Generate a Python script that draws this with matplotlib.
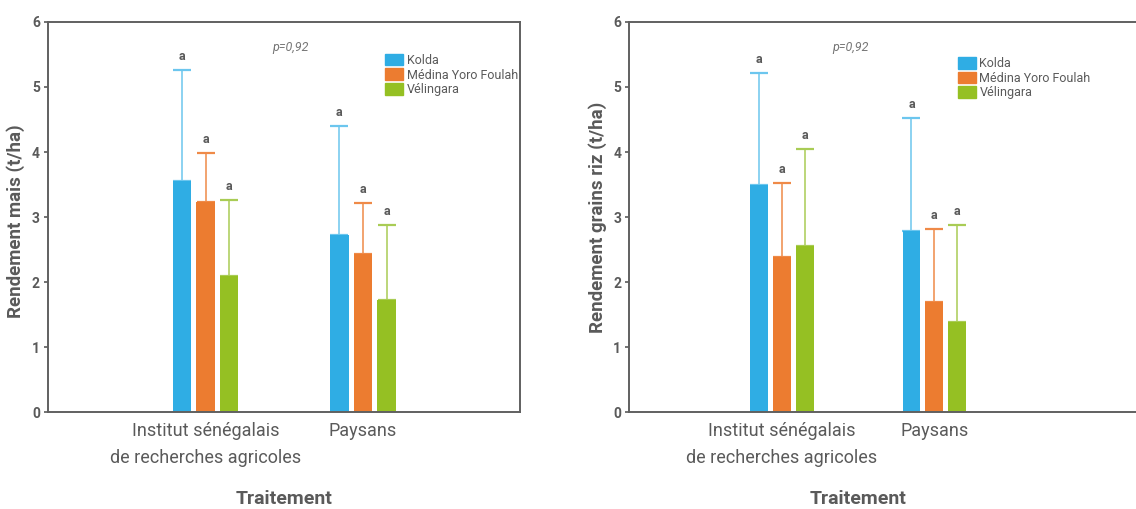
import matplotlib
matplotlib.use("Agg")
import matplotlib.pyplot as plt
import matplotlib.patches as mpatches
import numpy as np

plt.rcParams["font.family"] = ["Roboto", "DejaVu Sans"]

GREY = "#5a5a5a"
TREATMENTS = ["Institut sénégalais\nde recherches agricoles", "Paysans"]
SITES = ["Kolda", "Médina Yoro Foulah", "Vélingara"]
BAR_COLORS = ["#2fade4", "#ec7c30", "#95c023"]
ERR_COLORS = ["#6cc6ee", "#ef8a48", "#a9cc55"]

# maize yield (t/ha): mean and top of error bar, per site, per treatment
mais_mean = {"Kolda": [3.56, 2.72], "Médina Yoro Foulah": [3.23, 2.44], "Vélingara": [2.09, 1.72]}
mais_top = {"Kolda": [5.26, 4.40], "Médina Yoro Foulah": [3.99, 3.21], "Vélingara": [3.27, 2.88]}
mais_letters = {"Kolda": ["a", "a"], "Médina Yoro Foulah": ["a", "a"], "Vélingara": ["a", "a"]}

# rice grain yield (t/ha)
riz_mean = {"Kolda": [3.49, 2.79], "Médina Yoro Foulah": [2.39, 1.70], "Vélingara": [2.55, 1.39]}
riz_top = {"Kolda": [5.22, 4.53], "Médina Yoro Foulah": [3.53, 2.82], "Vélingara": [4.05, 2.88]}
riz_letters = {"Kolda": ["a", "a"], "Médina Yoro Foulah": ["a", "a"], "Vélingara": ["a", "a"]}

P_TEXT = "p=0,92"

WIDTH = 0.117
STEP = 0.15


def draw_panel(ax, means, tops, letters, ylabel, xmax, legend_x, legend_y, label_x, p_x):
    x = np.arange(len(TREATMENTS))
    for i, site in enumerate(SITES):
        pos = x + (i - 1) * STEP
        m = np.array(means[site])
        t = np.array(tops[site])
        ax.bar(pos, m, WIDTH, color=BAR_COLORS[i], zorder=2)
        ax.errorbar(pos, m, yerr=[np.zeros_like(m), t - m], fmt="none",
                    ecolor=ERR_COLORS[i], elinewidth=1.1, capsize=6.5,
                    capthick=1.6, zorder=1)
        for xp, tp, lt in zip(pos, t, letters[site]):
            ax.annotate(lt, (xp, tp), textcoords="offset points", xytext=(0, 5),
                        ha="center", va="bottom", fontsize=9, fontweight="bold",
                        color=GREY)

    ax.set_xlim(-1, xmax)
    ax.set_ylim(0, 6)
    ax.set_xticks(x)
    ax.set_xticklabels(TREATMENTS, fontsize=13, color=GREY, linespacing=1.65)
    ax.tick_params(axis="x", length=0, pad=7)
    ax.tick_params(axis="y", labelsize=10, colors=GREY, length=3, width=1.2, pad=3)
    for lab in ax.get_yticklabels():
        lab.set_fontweight("bold")
    for s in ax.spines.values():
        s.set_color("#606060")
        s.set_linewidth(1.4)

    ax.set_ylabel(ylabel, fontsize=13.5, fontweight="bold", color=GREY)
    ax.set_xlabel("Traitement", fontsize=14, fontweight="bold", color=GREY)
    ax.xaxis.set_label_coords(label_x, -0.2)

    ax.text(p_x, 0.935, P_TEXT, transform=ax.transAxes, fontsize=9,
            style="italic", color="#777777", ha="center", va="center")

    handles = [mpatches.Patch(color=c, label=s) for c, s in zip(BAR_COLORS, SITES)]
    ax.legend(handles=handles, loc="upper left", bbox_to_anchor=(legend_x, legend_y),
              frameon=False, fontsize=9, handlelength=1.45, handleheight=1.05,
              handletextpad=0.3, labelspacing=0.12, borderpad=0, borderaxespad=0,
              labelcolor=GREY)


fig = plt.figure(figsize=(11.36, 5.09), dpi=100)
ax1 = fig.add_axes([0.0425, 0.19, 0.4155, 0.767])
ax2 = fig.add_axes([0.554, 0.19, 0.46, 0.767])

draw_panel(ax1, mais_mean, mais_top, mais_letters, "Rendement mais (t/ha)",
           2.0, 0.714, 0.918, 0.5, 0.513)
draw_panel(ax2, riz_mean, riz_top, riz_letters, "Rendement grains riz (t/ha)",
           2.427, 0.628, 0.91, 0.437, 0.423)

ax1.yaxis.set_label_coords(-0.05, 0.49)
ax2.yaxis.set_label_coords(-0.042, 0.5)

fig.savefig("out.png", dpi=100)
